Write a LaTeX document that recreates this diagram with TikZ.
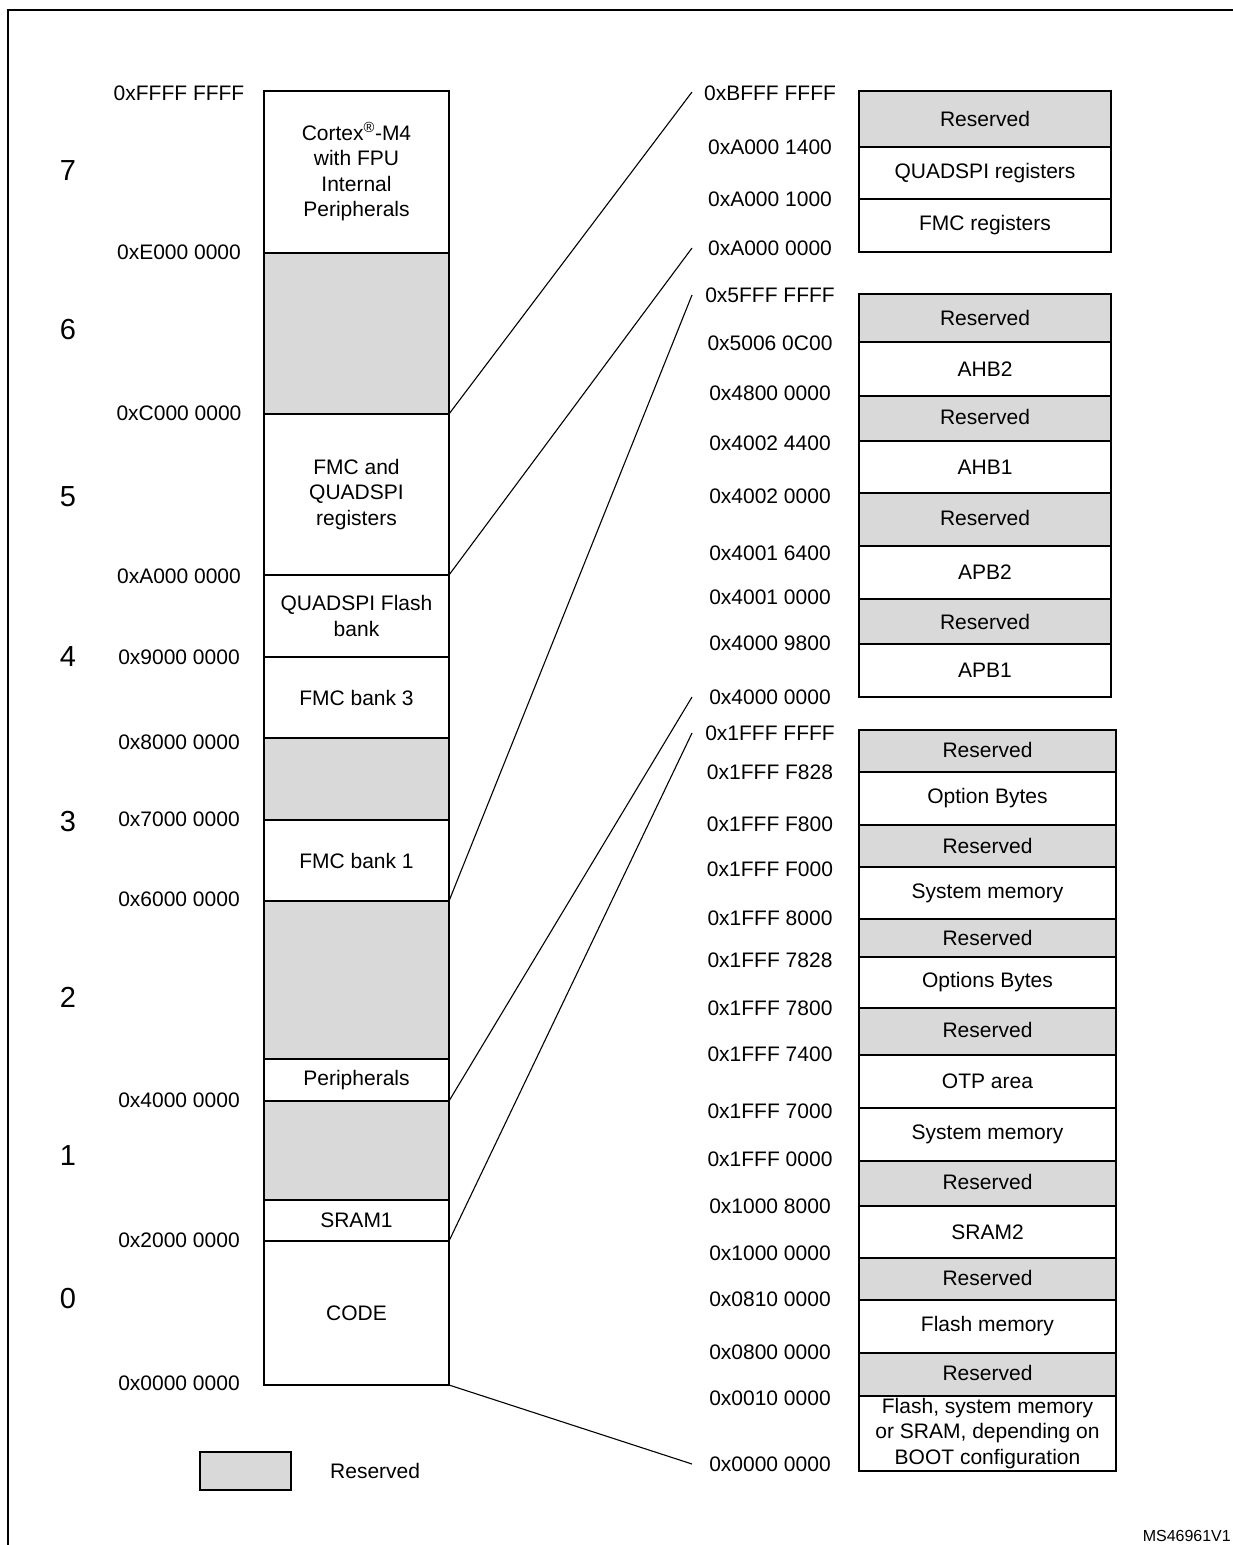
\documentclass[tikz,border=0pt]{standalone}
\usepackage{fontspec}
\setmainfont{Liberation Sans}
\definecolor{resgray}{RGB}{217,217,217}
\newcommand\memseg[7]{\node[#6, minimum width=#5pt, minimum height={#4pt-#3pt}] (#1) at (#2,#3) {#7};}
\begin{document}
\begin{tikzpicture}[x=1pt,y=-1pt,
  segbox/.style={draw, line width=1.3pt, inner sep=0pt, outer sep=0pt, anchor=north west, align=center, font=\fontsize{21}{25.5}\selectfont},
  res/.style={segbox, fill=resgray},
  free/.style={segbox, fill=white},
  addr/.style={font=\fontsize{21}{25}\selectfont, inner sep=0pt},
  region/.style={font=\fontsize{29}{34}\selectfont, inner sep=0pt},
  link/.style={line width=1.1pt}]
\useasboundingbox (0,0) rectangle (1232,1545);
% frame
\draw[line width=2.2pt] (8,1600) -- (8,10) -- (1300,10);
% left column
\memseg{L7}{264}{91}{253}{185}{free}{Cortex\textsuperscript{®}-M4\\with FPU\\Internal\\Peripherals}
\memseg{L6}{264}{253}{414}{185}{res}{}
\memseg{L5}{264}{414}{575}{185}{free}{FMC and\\QUADSPI\\registers}
\memseg{L4a}{264}{575}{657}{185}{free}{QUADSPI Flash\\bank}
\memseg{L4b}{264}{657}{738}{185}{free}{FMC bank 3}
\memseg{L3a}{264}{738}{820}{185}{res}{}
\memseg{L3b}{264}{820}{901}{185}{free}{FMC bank 1}
\memseg{L2a}{264}{901}{1059}{185}{res}{}
\memseg{L2b}{264}{1059}{1101}{185}{free}{Peripherals}
\memseg{L1a}{264}{1101}{1200}{185}{res}{}
\memseg{L1b}{264}{1200}{1241}{185}{free}{SRAM1}
\memseg{L0}{264}{1241}{1385}{185}{free}{CODE}
% top right
\memseg{T1}{859}{91}{147}{252}{res}{\raisebox{-4pt}{Reserved}}
\memseg{T2}{859}{147}{199}{252}{free}{QUADSPI registers}
\memseg{T3}{859}{199}{252}{252}{free}{FMC registers}
% middle right
\memseg{M1}{859}{294}{342}{252}{res}{Reserved}
\memseg{M2}{859}{342}{396}{252}{free}{AHB2}
\memseg{M3}{859}{396}{441}{252}{res}{\raisebox{3pt}{Reserved}}
\memseg{M4}{859}{441}{493}{252}{free}{AHB1}
\memseg{M5}{859}{493}{546}{252}{res}{\raisebox{3pt}{Reserved}}
\memseg{M6}{859}{546}{599}{252}{free}{APB2}
\memseg{M7}{859}{599}{644}{252}{res}{Reserved}
\memseg{M8}{859}{644}{697}{252}{free}{APB1}
% bottom right
\memseg{B1}{859}{730}{772}{257}{res}{\raisebox{2pt}{Reserved}}
\memseg{B2}{859}{772}{825}{257}{free}{Option Bytes}
\memseg{B3}{859}{825}{867}{257}{res}{Reserved}
\memseg{B4}{859}{867}{919}{257}{free}{System memory}
\memseg{B5}{859}{919}{957}{257}{res}{Reserved}
\memseg{B6}{859}{957}{1008}{257}{free}{Options Bytes}
\memseg{B7}{859}{1008}{1055}{257}{res}{\raisebox{3pt}{Reserved}}
\memseg{B8}{859}{1055}{1108}{257}{free}{OTP area}
\memseg{B9}{859}{1108}{1161}{257}{free}{System memory}
\memseg{B10}{859}{1161}{1206}{257}{res}{\raisebox{4pt}{Reserved}}
\memseg{B11}{859}{1206}{1258}{257}{free}{SRAM2}
\memseg{B12}{859}{1258}{1300}{257}{res}{\raisebox{3pt}{Reserved}}
\memseg{B13}{859}{1300}{1353}{257}{free}{Flash memory}
\memseg{B14}{859}{1353}{1396}{257}{res}{\raisebox{3pt}{Reserved}}
\memseg{B15}{859}{1396}{1471}{257}{free}{Flash, system memory\\or SRAM, depending on\\BOOT configuration}
% left address labels
\foreach \t/\yy [count=\i] in {0xFFFF FFFF/93, 0xE000 0000/252, 0xC000 0000/413, 0xA000 0000/576, 0x9000 0000/657, 0x8000 0000/742, 0x7000 0000/819, 0x6000 0000/899, 0x4000 0000/1100, 0x2000 0000/1240, 0x0000 0000/1383}
  \node[addr] (la\i) at (179,\yy) {\t};
% right address labels
\foreach \t/\yy [count=\i] in {0xBFFF FFFF/93, 0xA000 1400/147, 0xA000 1000/199, 0xA000 0000/248,
  0x5FFF FFFF/295, 0x5006 0C00/343, 0x4800 0000/393, 0x4002 4400/443, 0x4002 0000/496, 0x4001 6400/553, 0x4001 0000/597, 0x4000 9800/643, 0x4000 0000/697,
  0x1FFF FFFF/733, 0x1FFF F828/772, 0x1FFF F800/824, 0x1FFF F000/869, 0x1FFF 8000/918, 0x1FFF 7828/960, 0x1FFF 7800/1008, 0x1FFF 7400/1054, 0x1FFF 7000/1111, 0x1FFF 0000/1159, 0x1000 8000/1206, 0x1000 0000/1253, 0x0810 0000/1299, 0x0800 0000/1352, 0x0010 0000/1398, 0x0000 0000/1464}
  \node[addr] (ra\i) at (770,\yy) {\t};
% region numbers
\foreach \n/\yy in {7/171, 6/330, 5/497, 4/657, 3/822, 2/997, 1/1156, 0/1299}
  \node[region] (reg\n) at (68,\yy) {\n};
% connector ends
\coordinate (e1) at (692,92);
\coordinate (e2) at (692,248);
\coordinate (e3) at (692,295);
\coordinate (e4) at (692,697);
\coordinate (e5) at (692,733);
\coordinate (e6) at (692,1464);
\draw[link] (L6.south east) -- (e1);
\draw[link] (L5.south east) -- (e2);
\draw[link] (L3b.south east) -- (e3);
\draw[link] (L2b.south east) -- (e4);
\draw[link] (L1b.south east) -- (e5);
\draw[link] (L0.south east) -- (e6);
% legend
\node[res, minimum width=91pt, minimum height=38pt] (leg) at (200,1452) {};
\node[addr, anchor=west] (legt) at (330,1471) {Reserved};
% figure id
\node[font=\fontsize{16}{18}\selectfont, inner sep=0pt, anchor=east] (msid) at (1231,1536) {MS46961V1};
\end{tikzpicture}
\end{document}
